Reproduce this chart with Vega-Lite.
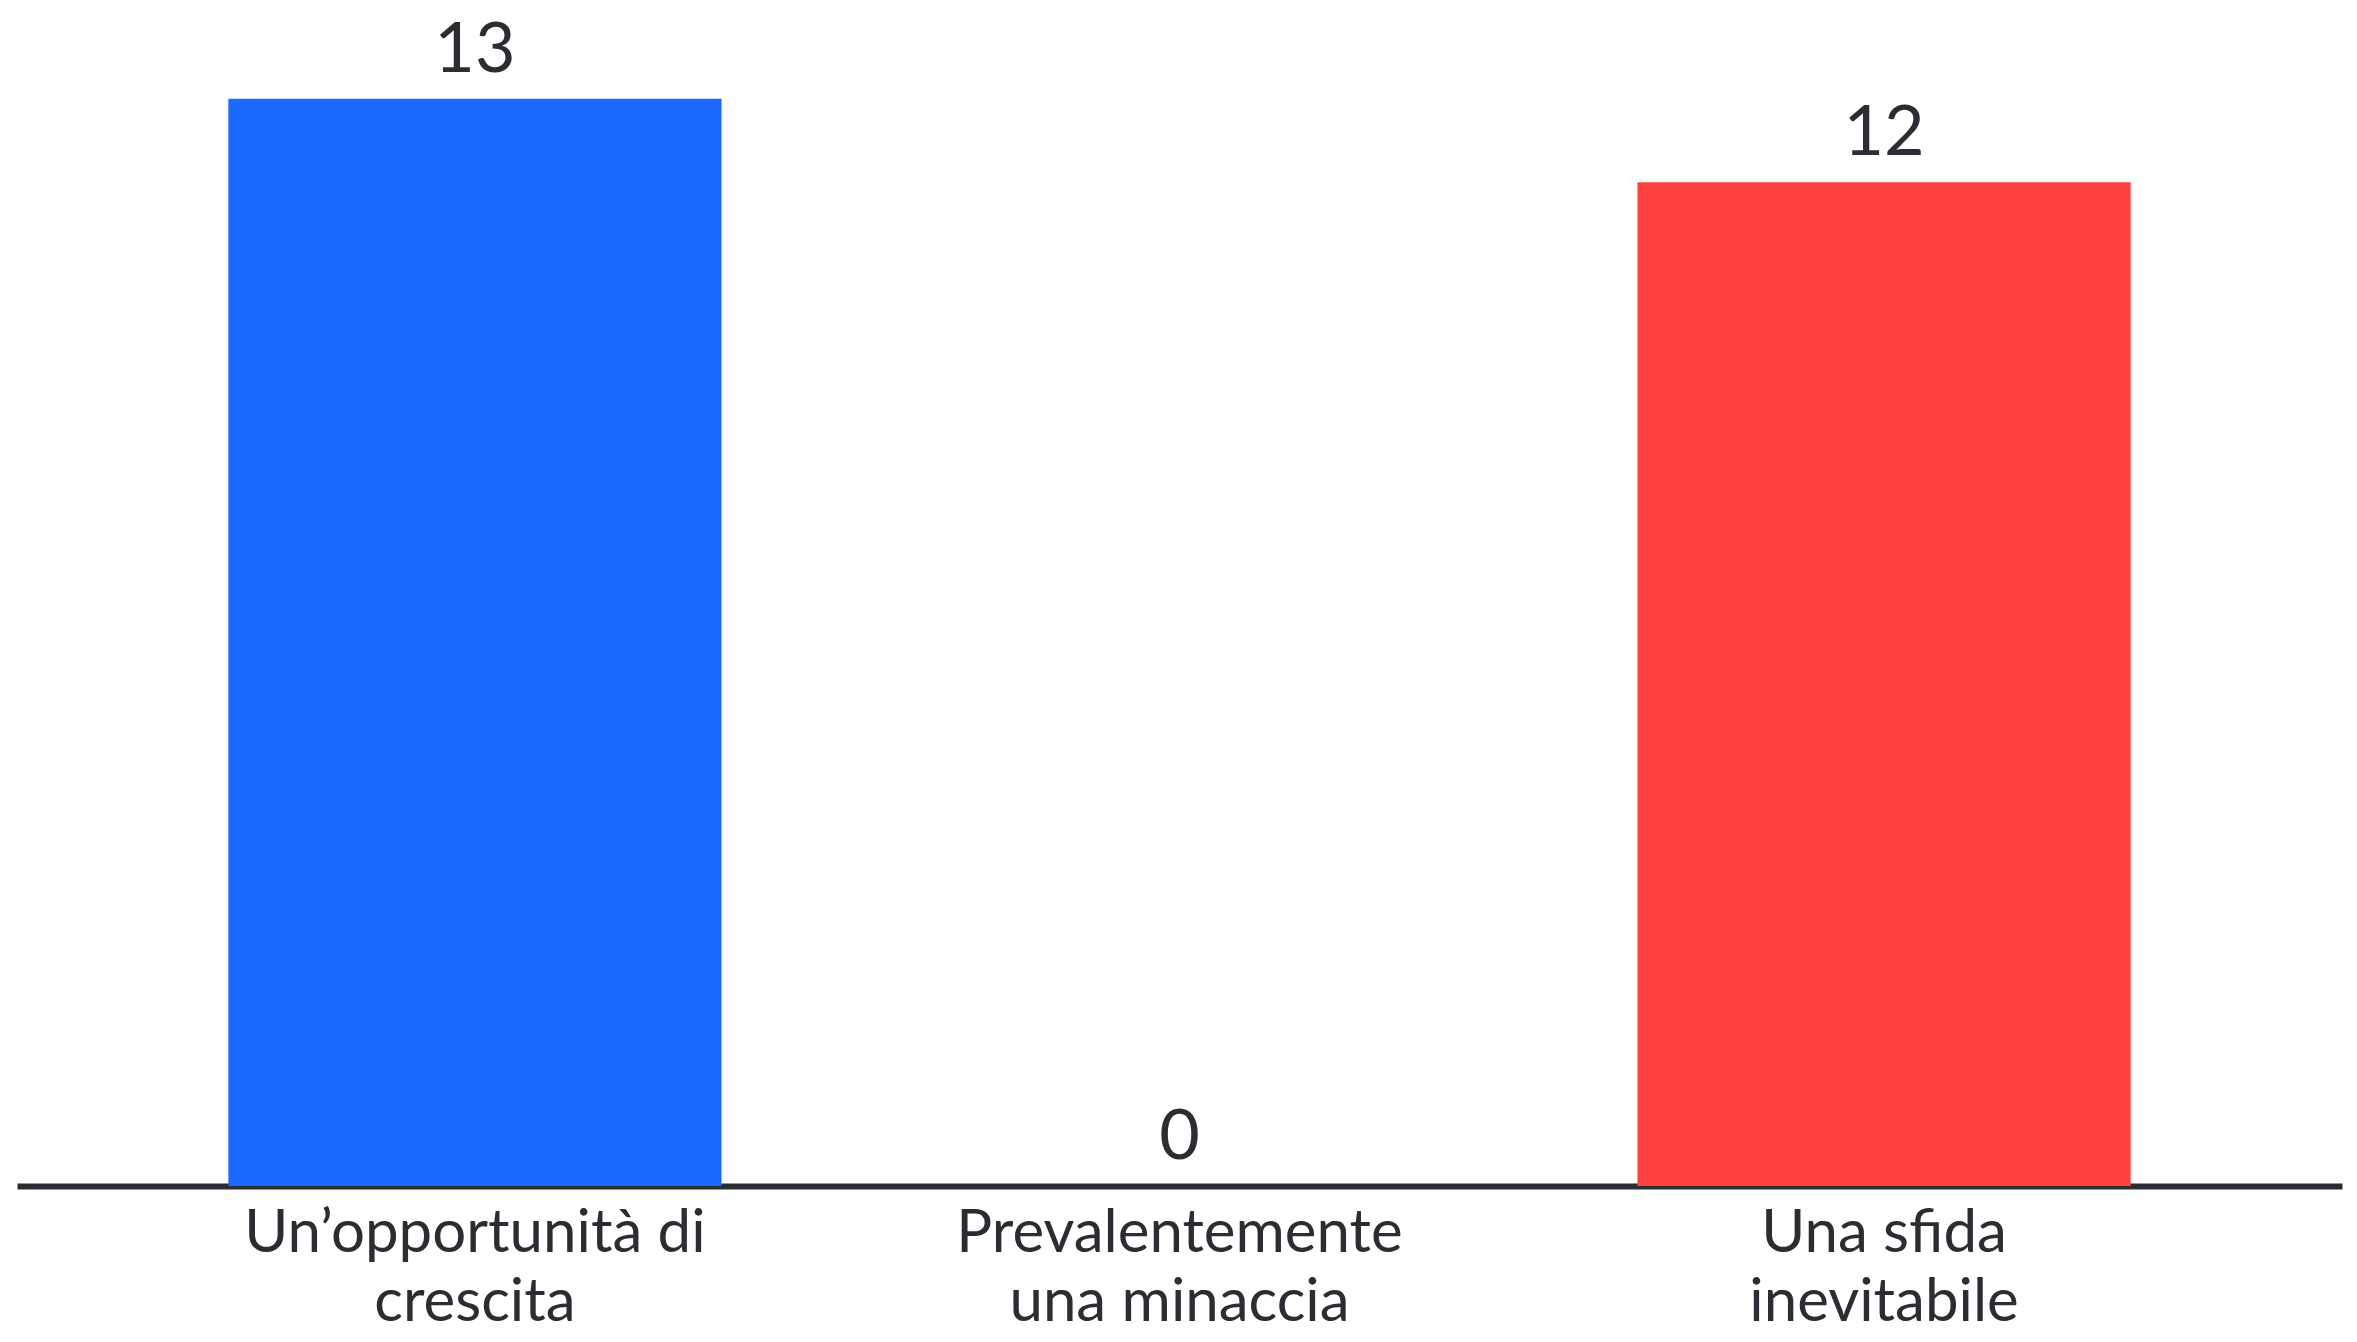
{
  "$schema": "https://vega.github.io/schema/vega-lite/v6.json",
  "autosize": {"type": "none"},
  "width": 2325,
  "height": 1186,
  "padding": {"left": 17, "top": 0, "right": 15, "bottom": 156},
  "background": "white",
  "config": {"view": {"stroke": null}, "font": "Lato"},
  "data": {
    "values": [
      {"categoria": "Un’opportunità di|crescita", "valore": 13, "colore": "#1b6aff"},
      {"categoria": "Prevalentemente|una minaccia", "valore": 0, "colore": "#ffffff"},
      {"categoria": "Una sfida|inevitabile", "valore": 12, "colore": "#ff403d"}
    ]
  },
  "encoding": {
    "x": {
      "field": "categoria",
      "type": "nominal",
      "sort": null,
      "scale": {"paddingInner": 0.3, "paddingOuter": 0.3},
      "axis": {
        "title": null,
        "labelAngle": 0,
        "labelExpr": "split(datum.label, '|')",
        "labelFontSize": 60,
        "labelLineHeight": 69,
        "labelLimit": 2000,
        "labelColor": "#2b2d33",
        "labelPadding": 18,
        "labelBaseline": "top",
        "ticks": false,
        "domainColor": "#2b2d33",
        "domainWidth": 6,
        "grid": false
      }
    },
    "y": {
      "field": "valore",
      "type": "quantitative",
      "scale": {"domain": [0, 14.18], "nice": false, "zero": true},
      "axis": null
    }
  },
  "layer": [
    {
      "mark": {"type": "bar"},
      "encoding": {"color": {"field": "colore", "type": "nominal", "scale": null}}
    },
    {
      "mark": {"type": "text", "baseline": "alphabetic", "dy": -27, "fontSize": 70, "color": "#2b2d33"},
      "encoding": {"text": {"field": "valore", "type": "quantitative"}}
    }
  ]
}
